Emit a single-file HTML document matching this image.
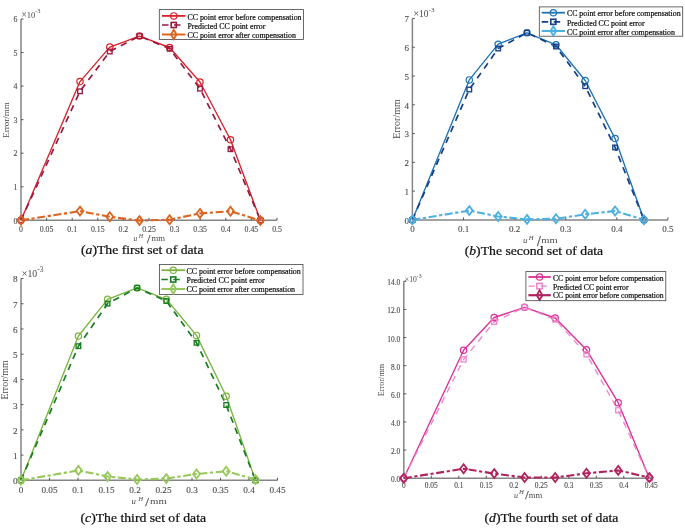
<!DOCTYPE html><html><head><meta charset="utf-8"><style>html,body{margin:0;padding:0;background:#fff;}svg{display:block;will-change:transform;filter:blur(0.4px);}text{font-family:"Liberation Serif", serif;} .lg{stroke:#111;stroke-width:0.22px;} .tk{stroke:#555;stroke-width:0.12px;} .cp{stroke:#111;stroke-width:0.25px;}</style></head><body>
<svg width="685" height="528" viewBox="0 0 685 528">
<rect width="685" height="528" fill="#fff"/>
<path d="M21,19 V220.3 M21,220.3 H277" fill="none" stroke="#858585" stroke-width="1.5"/>
<path d="M21,220.3 h2.5" stroke="#555" stroke-width="1"/>
<text x="17.5" y="223.58" font-size="7.8" fill="#4a4a4a" text-anchor="end" class="tk">0</text>
<path d="M21,186.75 h2.5" stroke="#555" stroke-width="1"/>
<text x="17.5" y="190.03" font-size="7.8" fill="#4a4a4a" text-anchor="end" class="tk">1</text>
<path d="M21,153.2 h2.5" stroke="#555" stroke-width="1"/>
<text x="17.5" y="156.48" font-size="7.8" fill="#4a4a4a" text-anchor="end" class="tk">2</text>
<path d="M21,119.65 h2.5" stroke="#555" stroke-width="1"/>
<text x="17.5" y="122.93" font-size="7.8" fill="#4a4a4a" text-anchor="end" class="tk">3</text>
<path d="M21,86.1 h2.5" stroke="#555" stroke-width="1"/>
<text x="17.5" y="89.38" font-size="7.8" fill="#4a4a4a" text-anchor="end" class="tk">4</text>
<path d="M21,52.55 h2.5" stroke="#555" stroke-width="1"/>
<text x="17.5" y="55.83" font-size="7.8" fill="#4a4a4a" text-anchor="end" class="tk">5</text>
<path d="M21,19 h2.5" stroke="#555" stroke-width="1"/>
<text x="17.5" y="22.28" font-size="7.8" fill="#4a4a4a" text-anchor="end" class="tk">6</text>
<path d="M21,220.3 v-2.5" stroke="#555" stroke-width="1"/>
<text x="21" y="231.8" font-size="7.8" fill="#4a4a4a" text-anchor="middle" class="tk">0</text>
<path d="M46.6,220.3 v-2.5" stroke="#555" stroke-width="1"/>
<text x="46.6" y="231.8" font-size="7.8" fill="#4a4a4a" text-anchor="middle" class="tk">0.05</text>
<path d="M72.2,220.3 v-2.5" stroke="#555" stroke-width="1"/>
<text x="72.2" y="231.8" font-size="7.8" fill="#4a4a4a" text-anchor="middle" class="tk">0.1</text>
<path d="M97.8,220.3 v-2.5" stroke="#555" stroke-width="1"/>
<text x="97.8" y="231.8" font-size="7.8" fill="#4a4a4a" text-anchor="middle" class="tk">0.15</text>
<path d="M123.4,220.3 v-2.5" stroke="#555" stroke-width="1"/>
<text x="123.4" y="231.8" font-size="7.8" fill="#4a4a4a" text-anchor="middle" class="tk">0.2</text>
<path d="M149,220.3 v-2.5" stroke="#555" stroke-width="1"/>
<text x="149" y="231.8" font-size="7.8" fill="#4a4a4a" text-anchor="middle" class="tk">0.25</text>
<path d="M174.6,220.3 v-2.5" stroke="#555" stroke-width="1"/>
<text x="174.6" y="231.8" font-size="7.8" fill="#4a4a4a" text-anchor="middle" class="tk">0.3</text>
<path d="M200.2,220.3 v-2.5" stroke="#555" stroke-width="1"/>
<text x="200.2" y="231.8" font-size="7.8" fill="#4a4a4a" text-anchor="middle" class="tk">0.35</text>
<path d="M225.8,220.3 v-2.5" stroke="#555" stroke-width="1"/>
<text x="225.8" y="231.8" font-size="7.8" fill="#4a4a4a" text-anchor="middle" class="tk">0.4</text>
<path d="M251.4,220.3 v-2.5" stroke="#555" stroke-width="1"/>
<text x="251.4" y="231.8" font-size="7.8" fill="#4a4a4a" text-anchor="middle" class="tk">0.45</text>
<path d="M277,220.3 v-2.5" stroke="#555" stroke-width="1"/>
<text x="277" y="231.8" font-size="7.8" fill="#4a4a4a" text-anchor="middle" class="tk">0.5</text>
<text x="21.4" y="17.6" font-size="8.5" fill="#4a4a4a"><tspan font-size="9.35">&#215;</tspan>10<tspan font-size="6.38" dy="-4.42">-3</tspan></text>
<text x="9" y="120" font-size="9" fill="#4a4a4a" text-anchor="middle" transform="rotate(-90 9 120)">Error/mm</text>
<text x="133.6" y="241.2" font-size="7.4" fill="#4a4a4a" font-style="italic">u</text>
<text x="138.7" y="237.6" font-size="6" fill="#4a4a4a" font-style="italic">H</text>
<text x="147.1" y="242.8" font-size="12" fill="#4a4a4a" stroke="#4a4a4a" stroke-width="0.25">/</text>
<text x="151.4" y="241.2" font-size="7.4" fill="#4a4a4a" textLength="13.6" lengthAdjust="spacingAndGlyphs">mm</text>
<polyline points="21,220.3 80,81.6 109.8,47.1 139.5,36.1 169.6,47.5 200,82 230.5,139.8 260.4,220.3" fill="none" stroke="#d8232a" stroke-width="1.35" stroke-linejoin="round"/>
<polyline points="21,220.3 80,91.3 109.8,51.5 139.5,36.1 169.6,48.8 200,88.7 230.5,149.2 260.4,220.3" fill="none" stroke="#981a42" stroke-width="1.7" stroke-dasharray="6.5,5.5" stroke-linejoin="round"/>
<polyline points="21,220.3 80,211.1 109.8,216.8 139.5,220.6 169.6,219.7 200,213.4 230.5,211.2 260.4,220.6" fill="none" stroke="#dc6420" stroke-width="2.1" stroke-dasharray="8,2.6,3.2,2.6" stroke-linejoin="round"/>
<circle cx="21" cy="220.3" r="3.15" fill="none" stroke="#d8232a" stroke-width="1.2"/>
<circle cx="80" cy="81.6" r="3.15" fill="none" stroke="#d8232a" stroke-width="1.2"/>
<circle cx="109.8" cy="47.1" r="3.15" fill="none" stroke="#d8232a" stroke-width="1.2"/>
<circle cx="139.5" cy="36.1" r="3.15" fill="none" stroke="#d8232a" stroke-width="1.2"/>
<circle cx="169.6" cy="47.5" r="3.15" fill="none" stroke="#d8232a" stroke-width="1.2"/>
<circle cx="200" cy="82" r="3.15" fill="none" stroke="#d8232a" stroke-width="1.2"/>
<circle cx="230.5" cy="139.8" r="3.15" fill="none" stroke="#d8232a" stroke-width="1.2"/>
<circle cx="260.4" cy="220.3" r="3.15" fill="none" stroke="#d8232a" stroke-width="1.2"/>
<rect x="18.7" y="218" width="4.6" height="4.6" fill="none" stroke="#981a42" stroke-width="1.35"/>
<rect x="77.7" y="89" width="4.6" height="4.6" fill="none" stroke="#981a42" stroke-width="1.35"/>
<rect x="107.5" y="49.2" width="4.6" height="4.6" fill="none" stroke="#981a42" stroke-width="1.35"/>
<rect x="137.2" y="33.8" width="4.6" height="4.6" fill="none" stroke="#981a42" stroke-width="1.35"/>
<rect x="167.3" y="46.5" width="4.6" height="4.6" fill="none" stroke="#981a42" stroke-width="1.35"/>
<rect x="197.7" y="86.4" width="4.6" height="4.6" fill="none" stroke="#981a42" stroke-width="1.35"/>
<rect x="228.2" y="146.9" width="4.6" height="4.6" fill="none" stroke="#981a42" stroke-width="1.35"/>
<rect x="258.1" y="218" width="4.6" height="4.6" fill="none" stroke="#981a42" stroke-width="1.35"/>
<polygon points="21,215.82 24.44,220.3 21,224.78 17.56,220.3" fill="none" stroke="#dc6420" stroke-width="1.8"/>
<polygon points="80,206.62 83.44,211.1 80,215.58 76.56,211.1" fill="none" stroke="#dc6420" stroke-width="1.8"/>
<polygon points="109.8,212.32 113.24,216.8 109.8,221.28 106.36,216.8" fill="none" stroke="#dc6420" stroke-width="1.8"/>
<polygon points="139.5,216.12 142.94,220.6 139.5,225.08 136.06,220.6" fill="none" stroke="#dc6420" stroke-width="1.8"/>
<polygon points="169.6,215.22 173.04,219.7 169.6,224.18 166.16,219.7" fill="none" stroke="#dc6420" stroke-width="1.8"/>
<polygon points="200,208.92 203.44,213.4 200,217.88 196.56,213.4" fill="none" stroke="#dc6420" stroke-width="1.8"/>
<polygon points="230.5,206.72 233.94,211.2 230.5,215.68 227.06,211.2" fill="none" stroke="#dc6420" stroke-width="1.8"/>
<polygon points="260.4,216.12 263.84,220.6 260.4,225.08 256.96,220.6" fill="none" stroke="#dc6420" stroke-width="1.8"/>
<rect x="159.3" y="9.6" width="144.2" height="29.9" fill="#fff" stroke="#444" stroke-width="0.8"/>
<polyline points="162,15.9 185.5,15.9" fill="none" stroke="#d8232a" stroke-width="1.8" stroke-linejoin="round"/>
<circle cx="173.75" cy="15.9" r="3.15" fill="none" stroke="#d8232a" stroke-width="1.2"/>
<text x="187.4" y="19.63" font-size="7.92" fill="#111" text-anchor="start" class="lg">CC point error before compensation</text>
<polyline points="162,25 185.5,25" fill="none" stroke="#981a42" stroke-width="1.7" stroke-dasharray="6.5,5.5" stroke-linejoin="round"/>
<rect x="171.2" y="22.45" width="5.1" height="5.1" fill="none" stroke="#981a42" stroke-width="1.6"/>
<text x="187.4" y="28.93" font-size="7.92" fill="#111" text-anchor="start" class="lg">Predicted CC point error</text>
<polyline points="162,34.5 185.5,34.5" fill="none" stroke="#dc6420" stroke-width="2" stroke-dasharray="none" stroke-linejoin="round"/>
<polygon points="173.75,29.7 176.55,34.5 173.75,39.3 170.95,34.5" fill="none" stroke="#dc6420" stroke-width="1.8"/>
<text x="187.4" y="37.83" font-size="7.92" fill="#111" text-anchor="start" class="lg">CC point error after compensation</text>
<text transform="translate(81 254.3) scale(1 0.95)" x="0" y="0" font-size="13.7" fill="#111" class="cp">(<tspan font-style="italic">a</tspan>)The first set of data</text>
<path d="M412.4,18.4 V219.9 M412.4,219.9 H668" fill="none" stroke="#858585" stroke-width="1.5"/>
<path d="M412.4,219.9 h2.5" stroke="#555" stroke-width="1"/>
<text x="408.9" y="223.68" font-size="9" fill="#4a4a4a" text-anchor="end" class="tk">0</text>
<path d="M412.4,191.12 h2.5" stroke="#555" stroke-width="1"/>
<text x="408.9" y="194.9" font-size="9" fill="#4a4a4a" text-anchor="end" class="tk">1</text>
<path d="M412.4,162.34 h2.5" stroke="#555" stroke-width="1"/>
<text x="408.9" y="166.12" font-size="9" fill="#4a4a4a" text-anchor="end" class="tk">2</text>
<path d="M412.4,133.56 h2.5" stroke="#555" stroke-width="1"/>
<text x="408.9" y="137.34" font-size="9" fill="#4a4a4a" text-anchor="end" class="tk">3</text>
<path d="M412.4,104.78 h2.5" stroke="#555" stroke-width="1"/>
<text x="408.9" y="108.56" font-size="9" fill="#4a4a4a" text-anchor="end" class="tk">4</text>
<path d="M412.4,76 h2.5" stroke="#555" stroke-width="1"/>
<text x="408.9" y="79.78" font-size="9" fill="#4a4a4a" text-anchor="end" class="tk">5</text>
<path d="M412.4,47.22 h2.5" stroke="#555" stroke-width="1"/>
<text x="408.9" y="51" font-size="9" fill="#4a4a4a" text-anchor="end" class="tk">6</text>
<path d="M412.4,18.44 h2.5" stroke="#555" stroke-width="1"/>
<text x="408.9" y="22.22" font-size="9" fill="#4a4a4a" text-anchor="end" class="tk">7</text>
<path d="M412.4,219.9 v-2.5" stroke="#555" stroke-width="1"/>
<text x="412.4" y="232.2" font-size="9" fill="#4a4a4a" text-anchor="middle" class="tk">0</text>
<path d="M463.5,219.9 v-2.5" stroke="#555" stroke-width="1"/>
<text x="463.5" y="232.2" font-size="9" fill="#4a4a4a" text-anchor="middle" class="tk">0.1</text>
<path d="M514.6,219.9 v-2.5" stroke="#555" stroke-width="1"/>
<text x="514.6" y="232.2" font-size="9" fill="#4a4a4a" text-anchor="middle" class="tk">0.2</text>
<path d="M565.7,219.9 v-2.5" stroke="#555" stroke-width="1"/>
<text x="565.7" y="232.2" font-size="9" fill="#4a4a4a" text-anchor="middle" class="tk">0.3</text>
<path d="M616.8,219.9 v-2.5" stroke="#555" stroke-width="1"/>
<text x="616.8" y="232.2" font-size="9" fill="#4a4a4a" text-anchor="middle" class="tk">0.4</text>
<path d="M667.9,219.9 v-2.5" stroke="#555" stroke-width="1"/>
<text x="667.9" y="232.2" font-size="9" fill="#4a4a4a" text-anchor="middle" class="tk">0.5</text>
<text x="413.2" y="17" font-size="9.5" fill="#4a4a4a"><tspan font-size="10.45">&#215;</tspan>10<tspan font-size="7.12" dy="-4.94">-3</tspan></text>
<text x="399.5" y="119" font-size="10" fill="#4a4a4a" text-anchor="middle" transform="rotate(-90 399.5 119)">Error/mm</text>
<text x="522.9" y="243.3" font-size="9" fill="#4a4a4a" font-style="italic">u</text>
<text x="528.8" y="239.7" font-size="6.6" fill="#4a4a4a" font-style="italic">H</text>
<text x="536.9" y="245.5" font-size="13.6" fill="#4a4a4a" stroke="#4a4a4a" stroke-width="0.25">/</text>
<text x="541.2" y="243.2" font-size="9" fill="#4a4a4a" textLength="16.4" lengthAdjust="spacingAndGlyphs">mm</text>
<polyline points="412.4,219.9 469.3,79.9 498.2,44.2 527,32.8 556,44.8 585.2,80.5 615.1,138.6 644,219.9" fill="none" stroke="#1f74b4" stroke-width="1.35" stroke-linejoin="round"/>
<polyline points="412.4,219.9 469.3,89.5 498.2,48.5 527,32.8 556,46.5 585.2,86.2 615.1,147.5 644,219.9" fill="none" stroke="#173f85" stroke-width="1.7" stroke-dasharray="6.5,5.5" stroke-linejoin="round"/>
<polyline points="412.4,219.9 469.3,210.6 498.2,216.5 527,219.4 556,218.8 585.2,214.3 615.1,211 644,219.8" fill="none" stroke="#4db0e0" stroke-width="2.1" stroke-dasharray="8,2.6,3.2,2.6" stroke-linejoin="round"/>
<circle cx="412.4" cy="219.9" r="3.15" fill="none" stroke="#1f74b4" stroke-width="1.2"/>
<circle cx="469.3" cy="79.9" r="3.15" fill="none" stroke="#1f74b4" stroke-width="1.2"/>
<circle cx="498.2" cy="44.2" r="3.15" fill="none" stroke="#1f74b4" stroke-width="1.2"/>
<circle cx="527" cy="32.8" r="3.15" fill="none" stroke="#1f74b4" stroke-width="1.2"/>
<circle cx="556" cy="44.8" r="3.15" fill="none" stroke="#1f74b4" stroke-width="1.2"/>
<circle cx="585.2" cy="80.5" r="3.15" fill="none" stroke="#1f74b4" stroke-width="1.2"/>
<circle cx="615.1" cy="138.6" r="3.15" fill="none" stroke="#1f74b4" stroke-width="1.2"/>
<circle cx="644" cy="219.9" r="3.15" fill="none" stroke="#1f74b4" stroke-width="1.2"/>
<rect x="410.1" y="217.6" width="4.6" height="4.6" fill="none" stroke="#173f85" stroke-width="1.35"/>
<rect x="467" y="87.2" width="4.6" height="4.6" fill="none" stroke="#173f85" stroke-width="1.35"/>
<rect x="495.9" y="46.2" width="4.6" height="4.6" fill="none" stroke="#173f85" stroke-width="1.35"/>
<rect x="524.7" y="30.5" width="4.6" height="4.6" fill="none" stroke="#173f85" stroke-width="1.35"/>
<rect x="553.7" y="44.2" width="4.6" height="4.6" fill="none" stroke="#173f85" stroke-width="1.35"/>
<rect x="582.9" y="83.9" width="4.6" height="4.6" fill="none" stroke="#173f85" stroke-width="1.35"/>
<rect x="612.8" y="145.2" width="4.6" height="4.6" fill="none" stroke="#173f85" stroke-width="1.35"/>
<rect x="641.7" y="217.6" width="4.6" height="4.6" fill="none" stroke="#173f85" stroke-width="1.35"/>
<polygon points="412.4,215.42 415.84,219.9 412.4,224.38 408.96,219.9" fill="none" stroke="#4db0e0" stroke-width="1.8"/>
<polygon points="469.3,206.12 472.74,210.6 469.3,215.08 465.86,210.6" fill="none" stroke="#4db0e0" stroke-width="1.8"/>
<polygon points="498.2,212.02 501.64,216.5 498.2,220.98 494.76,216.5" fill="none" stroke="#4db0e0" stroke-width="1.8"/>
<polygon points="527,214.92 530.44,219.4 527,223.88 523.56,219.4" fill="none" stroke="#4db0e0" stroke-width="1.8"/>
<polygon points="556,214.32 559.44,218.8 556,223.28 552.56,218.8" fill="none" stroke="#4db0e0" stroke-width="1.8"/>
<polygon points="585.2,209.82 588.64,214.3 585.2,218.78 581.76,214.3" fill="none" stroke="#4db0e0" stroke-width="1.8"/>
<polygon points="615.1,206.52 618.54,211 615.1,215.48 611.66,211" fill="none" stroke="#4db0e0" stroke-width="1.8"/>
<polygon points="644,215.32 647.44,219.8 644,224.28 640.56,219.8" fill="none" stroke="#4db0e0" stroke-width="1.8"/>
<rect x="539.3" y="6.9" width="143.4" height="29.3" fill="#fff" stroke="#444" stroke-width="0.8"/>
<polyline points="541.7,12.7 565,12.7" fill="none" stroke="#1f74b4" stroke-width="1.8" stroke-linejoin="round"/>
<circle cx="553.35" cy="12.7" r="3.15" fill="none" stroke="#1f74b4" stroke-width="1.2"/>
<text x="566.9" y="16.41" font-size="7.88" fill="#111" text-anchor="start" class="lg">CC point error before compensation</text>
<polyline points="541.7,21.8 565,21.8" fill="none" stroke="#173f85" stroke-width="1.7" stroke-dasharray="6.5,5.5" stroke-linejoin="round"/>
<rect x="550.8" y="19.25" width="5.1" height="5.1" fill="none" stroke="#173f85" stroke-width="1.6"/>
<text x="566.9" y="25.61" font-size="7.88" fill="#111" text-anchor="start" class="lg">Predicted CC point error</text>
<polyline points="541.7,31 565,31" fill="none" stroke="#4db0e0" stroke-width="2" stroke-dasharray="none" stroke-linejoin="round"/>
<polygon points="553.35,26.2 556.15,31 553.35,35.8 550.55,31" fill="none" stroke="#4db0e0" stroke-width="1.8"/>
<text x="566.9" y="35.01" font-size="7.88" fill="#111" text-anchor="start" class="lg">CC point error after compensation</text>
<text transform="translate(464.7 254.7) scale(1 0.95)" x="0" y="0" font-size="13.7" fill="#111" class="cp">(<tspan font-style="italic">b</tspan>)The second set of data</text>
<path d="M21,278.5 V480.3 M21,480.3 H277.5" fill="none" stroke="#858585" stroke-width="1.5"/>
<path d="M21,480.3 h2.5" stroke="#555" stroke-width="1"/>
<text x="17.5" y="484.16" font-size="9.2" fill="#4a4a4a" text-anchor="end" class="tk">0</text>
<path d="M21,455.08 h2.5" stroke="#555" stroke-width="1"/>
<text x="17.5" y="458.94" font-size="9.2" fill="#4a4a4a" text-anchor="end" class="tk">1</text>
<path d="M21,429.86 h2.5" stroke="#555" stroke-width="1"/>
<text x="17.5" y="433.72" font-size="9.2" fill="#4a4a4a" text-anchor="end" class="tk">2</text>
<path d="M21,404.64 h2.5" stroke="#555" stroke-width="1"/>
<text x="17.5" y="408.5" font-size="9.2" fill="#4a4a4a" text-anchor="end" class="tk">3</text>
<path d="M21,379.42 h2.5" stroke="#555" stroke-width="1"/>
<text x="17.5" y="383.28" font-size="9.2" fill="#4a4a4a" text-anchor="end" class="tk">4</text>
<path d="M21,354.2 h2.5" stroke="#555" stroke-width="1"/>
<text x="17.5" y="358.06" font-size="9.2" fill="#4a4a4a" text-anchor="end" class="tk">5</text>
<path d="M21,328.98 h2.5" stroke="#555" stroke-width="1"/>
<text x="17.5" y="332.84" font-size="9.2" fill="#4a4a4a" text-anchor="end" class="tk">6</text>
<path d="M21,303.76 h2.5" stroke="#555" stroke-width="1"/>
<text x="17.5" y="307.62" font-size="9.2" fill="#4a4a4a" text-anchor="end" class="tk">7</text>
<path d="M21,278.54 h2.5" stroke="#555" stroke-width="1"/>
<text x="17.5" y="282.4" font-size="9.2" fill="#4a4a4a" text-anchor="end" class="tk">8</text>
<path d="M21,480.3 v-2.5" stroke="#555" stroke-width="1"/>
<text x="21" y="493" font-size="9.2" fill="#4a4a4a" text-anchor="middle" class="tk">0</text>
<path d="M49.5,480.3 v-2.5" stroke="#555" stroke-width="1"/>
<text x="49.5" y="493" font-size="9.2" fill="#4a4a4a" text-anchor="middle" class="tk">0.05</text>
<path d="M78,480.3 v-2.5" stroke="#555" stroke-width="1"/>
<text x="78" y="493" font-size="9.2" fill="#4a4a4a" text-anchor="middle" class="tk">0.1</text>
<path d="M106.5,480.3 v-2.5" stroke="#555" stroke-width="1"/>
<text x="106.5" y="493" font-size="9.2" fill="#4a4a4a" text-anchor="middle" class="tk">0.15</text>
<path d="M135,480.3 v-2.5" stroke="#555" stroke-width="1"/>
<text x="135" y="493" font-size="9.2" fill="#4a4a4a" text-anchor="middle" class="tk">0.2</text>
<path d="M163.5,480.3 v-2.5" stroke="#555" stroke-width="1"/>
<text x="163.5" y="493" font-size="9.2" fill="#4a4a4a" text-anchor="middle" class="tk">0.25</text>
<path d="M192,480.3 v-2.5" stroke="#555" stroke-width="1"/>
<text x="192" y="493" font-size="9.2" fill="#4a4a4a" text-anchor="middle" class="tk">0.3</text>
<path d="M220.5,480.3 v-2.5" stroke="#555" stroke-width="1"/>
<text x="220.5" y="493" font-size="9.2" fill="#4a4a4a" text-anchor="middle" class="tk">0.35</text>
<path d="M249,480.3 v-2.5" stroke="#555" stroke-width="1"/>
<text x="249" y="493" font-size="9.2" fill="#4a4a4a" text-anchor="middle" class="tk">0.4</text>
<path d="M277.5,480.3 v-2.5" stroke="#555" stroke-width="1"/>
<text x="277.5" y="493" font-size="9.2" fill="#4a4a4a" text-anchor="middle" class="tk">0.45</text>
<text x="21.4" y="277.1" font-size="9.8" fill="#4a4a4a"><tspan font-size="10.78">&#215;</tspan>10<tspan font-size="7.35" dy="-5.1">-3</tspan></text>
<text x="8.3" y="379.9" font-size="10" fill="#4a4a4a" text-anchor="middle" transform="rotate(-90 8.3 379.9)">Error/mm</text>
<text x="131.6" y="504" font-size="8.8" fill="#4a4a4a" font-style="italic">u</text>
<text x="138.6" y="500.9" font-size="6.3" fill="#4a4a4a" font-style="italic">H</text>
<text x="145.3" y="506.1" font-size="13.4" fill="#4a4a4a" stroke="#4a4a4a" stroke-width="0.25">/</text>
<text x="150" y="504" font-size="9" fill="#4a4a4a" textLength="16.8" lengthAdjust="spacingAndGlyphs">mm</text>
<polyline points="21,480.3 78.4,336 107.6,299.3 137.1,287.9 166.3,299.3 196.5,335.4 226.2,396.2 255.5,480.3" fill="none" stroke="#7db341" stroke-width="1.35" stroke-linejoin="round"/>
<polyline points="21,480.3 78.4,346.2 107.6,303.6 137.1,287.9 166.3,301 196.5,342.8 226.2,405 255.5,480.3" fill="none" stroke="#167f22" stroke-width="1.7" stroke-dasharray="6.5,5.5" stroke-linejoin="round"/>
<polyline points="21,480.3 78.4,470.4 107.6,476.5 137.1,479.5 166.3,478.6 196.5,474 226.2,471.2 255.5,479.5" fill="none" stroke="#96c85a" stroke-width="2.1" stroke-dasharray="8,2.6,3.2,2.6" stroke-linejoin="round"/>
<circle cx="21" cy="480.3" r="3.15" fill="none" stroke="#7db341" stroke-width="1.2"/>
<circle cx="78.4" cy="336" r="3.15" fill="none" stroke="#7db341" stroke-width="1.2"/>
<circle cx="107.6" cy="299.3" r="3.15" fill="none" stroke="#7db341" stroke-width="1.2"/>
<circle cx="137.1" cy="287.9" r="3.15" fill="none" stroke="#7db341" stroke-width="1.2"/>
<circle cx="166.3" cy="299.3" r="3.15" fill="none" stroke="#7db341" stroke-width="1.2"/>
<circle cx="196.5" cy="335.4" r="3.15" fill="none" stroke="#7db341" stroke-width="1.2"/>
<circle cx="226.2" cy="396.2" r="3.15" fill="none" stroke="#7db341" stroke-width="1.2"/>
<circle cx="255.5" cy="480.3" r="3.15" fill="none" stroke="#7db341" stroke-width="1.2"/>
<rect x="18.7" y="478" width="4.6" height="4.6" fill="none" stroke="#167f22" stroke-width="1.35"/>
<rect x="76.1" y="343.9" width="4.6" height="4.6" fill="none" stroke="#167f22" stroke-width="1.35"/>
<rect x="105.3" y="301.3" width="4.6" height="4.6" fill="none" stroke="#167f22" stroke-width="1.35"/>
<rect x="134.8" y="285.6" width="4.6" height="4.6" fill="none" stroke="#167f22" stroke-width="1.35"/>
<rect x="164" y="298.7" width="4.6" height="4.6" fill="none" stroke="#167f22" stroke-width="1.35"/>
<rect x="194.2" y="340.5" width="4.6" height="4.6" fill="none" stroke="#167f22" stroke-width="1.35"/>
<rect x="223.9" y="402.7" width="4.6" height="4.6" fill="none" stroke="#167f22" stroke-width="1.35"/>
<rect x="253.2" y="478" width="4.6" height="4.6" fill="none" stroke="#167f22" stroke-width="1.35"/>
<polygon points="21,475.82 24.44,480.3 21,484.78 17.56,480.3" fill="none" stroke="#96c85a" stroke-width="1.8"/>
<polygon points="78.4,465.92 81.84,470.4 78.4,474.88 74.96,470.4" fill="none" stroke="#96c85a" stroke-width="1.8"/>
<polygon points="107.6,472.02 111.04,476.5 107.6,480.98 104.16,476.5" fill="none" stroke="#96c85a" stroke-width="1.8"/>
<polygon points="137.1,475.02 140.54,479.5 137.1,483.98 133.66,479.5" fill="none" stroke="#96c85a" stroke-width="1.8"/>
<polygon points="166.3,474.12 169.74,478.6 166.3,483.08 162.86,478.6" fill="none" stroke="#96c85a" stroke-width="1.8"/>
<polygon points="196.5,469.52 199.94,474 196.5,478.48 193.06,474" fill="none" stroke="#96c85a" stroke-width="1.8"/>
<polygon points="226.2,466.72 229.64,471.2 226.2,475.68 222.76,471.2" fill="none" stroke="#96c85a" stroke-width="1.8"/>
<polygon points="255.5,475.02 258.94,479.5 255.5,483.98 252.06,479.5" fill="none" stroke="#96c85a" stroke-width="1.8"/>
<rect x="159.4" y="264.4" width="143.6" height="30.1" fill="#fff" stroke="#444" stroke-width="0.8"/>
<polyline points="161.3,270.2 185.2,270.2" fill="none" stroke="#7db341" stroke-width="1.8" stroke-linejoin="round"/>
<circle cx="173.25" cy="270.2" r="3.15" fill="none" stroke="#7db341" stroke-width="1.2"/>
<text x="186.6" y="273.53" font-size="7.92" fill="#111" text-anchor="start" class="lg">CC point error before compensation</text>
<polyline points="161.3,279.5 185.2,279.5" fill="none" stroke="#167f22" stroke-width="1.7" stroke-dasharray="6.5,5.5" stroke-linejoin="round"/>
<rect x="170.7" y="276.95" width="5.1" height="5.1" fill="none" stroke="#167f22" stroke-width="1.6"/>
<text x="186.6" y="282.83" font-size="7.92" fill="#111" text-anchor="start" class="lg">Predicted CC point error</text>
<polyline points="161.3,289 185.2,289" fill="none" stroke="#96c85a" stroke-width="2" stroke-dasharray="none" stroke-linejoin="round"/>
<polygon points="173.25,284.2 176.05,289 173.25,293.8 170.45,289" fill="none" stroke="#96c85a" stroke-width="1.8"/>
<text x="186.6" y="292.33" font-size="7.92" fill="#111" text-anchor="start" class="lg">CC point error after compensation</text>
<text transform="translate(80.5 521.7) scale(1 0.95)" x="0" y="0" font-size="13.7" fill="#111" class="cp">(<tspan font-style="italic">c</tspan>)The third set of data</text>
<path d="M403.8,281.3 V478.2 M403.8,478.2 H651" fill="none" stroke="#858585" stroke-width="1.5"/>
<path d="M403.8,478.2 h2.5" stroke="#555" stroke-width="1"/>
<text x="400.3" y="482.27" font-size="7.4" fill="#4a4a4a" text-anchor="end" class="tk">0.0</text>
<path d="M403.8,450.07 h2.5" stroke="#555" stroke-width="1"/>
<text x="400.3" y="454.14" font-size="7.4" fill="#4a4a4a" text-anchor="end" class="tk">2.0</text>
<path d="M403.8,421.94 h2.5" stroke="#555" stroke-width="1"/>
<text x="400.3" y="426.01" font-size="7.4" fill="#4a4a4a" text-anchor="end" class="tk">4.0</text>
<path d="M403.8,393.81 h2.5" stroke="#555" stroke-width="1"/>
<text x="400.3" y="397.88" font-size="7.4" fill="#4a4a4a" text-anchor="end" class="tk">6.0</text>
<path d="M403.8,365.68 h2.5" stroke="#555" stroke-width="1"/>
<text x="400.3" y="369.75" font-size="7.4" fill="#4a4a4a" text-anchor="end" class="tk">8.0</text>
<path d="M403.8,337.55 h2.5" stroke="#555" stroke-width="1"/>
<text x="400.3" y="341.62" font-size="7.4" fill="#4a4a4a" text-anchor="end" class="tk">10.0</text>
<path d="M403.8,309.42 h2.5" stroke="#555" stroke-width="1"/>
<text x="400.3" y="313.49" font-size="7.4" fill="#4a4a4a" text-anchor="end" class="tk">12.0</text>
<path d="M403.8,281.29 h2.5" stroke="#555" stroke-width="1"/>
<text x="400.3" y="285.36" font-size="7.4" fill="#4a4a4a" text-anchor="end" class="tk">14.0</text>
<path d="M403.8,478.2 v-2.5" stroke="#555" stroke-width="1"/>
<text x="403.8" y="488" font-size="7.4" fill="#4a4a4a" text-anchor="middle" class="tk">0</text>
<path d="M431.3,478.2 v-2.5" stroke="#555" stroke-width="1"/>
<text x="431.3" y="488" font-size="7.4" fill="#4a4a4a" text-anchor="middle" class="tk">0.05</text>
<path d="M458.8,478.2 v-2.5" stroke="#555" stroke-width="1"/>
<text x="458.8" y="488" font-size="7.4" fill="#4a4a4a" text-anchor="middle" class="tk">0.1</text>
<path d="M486.3,478.2 v-2.5" stroke="#555" stroke-width="1"/>
<text x="486.3" y="488" font-size="7.4" fill="#4a4a4a" text-anchor="middle" class="tk">0.15</text>
<path d="M513.8,478.2 v-2.5" stroke="#555" stroke-width="1"/>
<text x="513.8" y="488" font-size="7.4" fill="#4a4a4a" text-anchor="middle" class="tk">0.2</text>
<path d="M541.3,478.2 v-2.5" stroke="#555" stroke-width="1"/>
<text x="541.3" y="488" font-size="7.4" fill="#4a4a4a" text-anchor="middle" class="tk">0.25</text>
<path d="M568.8,478.2 v-2.5" stroke="#555" stroke-width="1"/>
<text x="568.8" y="488" font-size="7.4" fill="#4a4a4a" text-anchor="middle" class="tk">0.3</text>
<path d="M596.3,478.2 v-2.5" stroke="#555" stroke-width="1"/>
<text x="596.3" y="488" font-size="7.4" fill="#4a4a4a" text-anchor="middle" class="tk">0.35</text>
<path d="M623.8,478.2 v-2.5" stroke="#555" stroke-width="1"/>
<text x="623.8" y="488" font-size="7.4" fill="#4a4a4a" text-anchor="middle" class="tk">0.4</text>
<path d="M651.3,478.2 v-2.5" stroke="#555" stroke-width="1"/>
<text x="651.3" y="488" font-size="7.4" fill="#4a4a4a" text-anchor="middle" class="tk">0.45</text>
<text x="404.5" y="281.5" font-size="7.6" fill="#4a4a4a"><tspan font-size="8.36">&#215;</tspan>10<tspan font-size="5.7" dy="-3.95">-3</tspan></text>
<text x="383.5" y="380" font-size="8.2" fill="#4a4a4a" text-anchor="middle" transform="rotate(-90 383.5 380)">Error/mm</text>
<text x="514" y="497.8" font-size="8" fill="#4a4a4a" font-style="italic">u</text>
<text x="519.1" y="494.4" font-size="6.8" fill="#4a4a4a" font-style="italic">H</text>
<text x="525.2" y="499.4" font-size="12" fill="#4a4a4a" stroke="#4a4a4a" stroke-width="0.25">/</text>
<text x="528.7" y="497.8" font-size="8" fill="#4a4a4a" textLength="13.6" lengthAdjust="spacingAndGlyphs">mm</text>
<polyline points="403.8,478.2 463.6,350.2 494.2,317.5 524.6,307.3 555.2,318 586.5,349.8 618.2,402.7 649.4,478.2" fill="none" stroke="#dc2f96" stroke-width="1.35" stroke-linejoin="round"/>
<polyline points="403.8,478.2 463.6,359.5 494.2,321.8 524.6,307.3 555.2,319.5 586.5,354.3 618.2,410.3 649.4,478.2" fill="none" stroke="#ee86cc" stroke-width="1.35" stroke-dasharray="6.5,5.5" stroke-linejoin="round"/>
<polyline points="403.8,478.2 463.6,468.8 494.2,473.6 524.6,477.5 555.2,477.5 586.5,473.3 618.2,470.4 649.4,477.5" fill="none" stroke="#b0245e" stroke-width="2.1" stroke-dasharray="8,2.6,3.2,2.6" stroke-linejoin="round"/>
<circle cx="403.8" cy="478.2" r="3.15" fill="none" stroke="#dc2f96" stroke-width="1.2"/>
<circle cx="463.6" cy="350.2" r="3.15" fill="none" stroke="#dc2f96" stroke-width="1.2"/>
<circle cx="494.2" cy="317.5" r="3.15" fill="none" stroke="#dc2f96" stroke-width="1.2"/>
<circle cx="524.6" cy="307.3" r="3.15" fill="none" stroke="#dc2f96" stroke-width="1.2"/>
<circle cx="555.2" cy="318" r="3.15" fill="none" stroke="#dc2f96" stroke-width="1.2"/>
<circle cx="586.5" cy="349.8" r="3.15" fill="none" stroke="#dc2f96" stroke-width="1.2"/>
<circle cx="618.2" cy="402.7" r="3.15" fill="none" stroke="#dc2f96" stroke-width="1.2"/>
<circle cx="649.4" cy="478.2" r="3.15" fill="none" stroke="#dc2f96" stroke-width="1.2"/>
<rect x="401.3" y="475.7" width="5" height="5" fill="none" stroke="#ee86cc" stroke-width="1.3"/>
<rect x="461.1" y="357" width="5" height="5" fill="none" stroke="#ee86cc" stroke-width="1.3"/>
<rect x="491.7" y="319.3" width="5" height="5" fill="none" stroke="#ee86cc" stroke-width="1.3"/>
<rect x="522.1" y="304.8" width="5" height="5" fill="none" stroke="#ee86cc" stroke-width="1.3"/>
<rect x="552.7" y="317" width="5" height="5" fill="none" stroke="#ee86cc" stroke-width="1.3"/>
<rect x="584" y="351.8" width="5" height="5" fill="none" stroke="#ee86cc" stroke-width="1.3"/>
<rect x="615.7" y="407.8" width="5" height="5" fill="none" stroke="#ee86cc" stroke-width="1.3"/>
<rect x="646.9" y="475.7" width="5" height="5" fill="none" stroke="#ee86cc" stroke-width="1.3"/>
<polygon points="403.8,473.72 407.24,478.2 403.8,482.68 400.36,478.2" fill="none" stroke="#b0245e" stroke-width="1.8"/>
<polygon points="463.6,464.32 467.04,468.8 463.6,473.28 460.16,468.8" fill="none" stroke="#b0245e" stroke-width="1.8"/>
<polygon points="494.2,469.12 497.64,473.6 494.2,478.08 490.76,473.6" fill="none" stroke="#b0245e" stroke-width="1.8"/>
<polygon points="524.6,473.02 528.04,477.5 524.6,481.98 521.16,477.5" fill="none" stroke="#b0245e" stroke-width="1.8"/>
<polygon points="555.2,473.02 558.64,477.5 555.2,481.98 551.76,477.5" fill="none" stroke="#b0245e" stroke-width="1.8"/>
<polygon points="586.5,468.82 589.94,473.3 586.5,477.78 583.06,473.3" fill="none" stroke="#b0245e" stroke-width="1.8"/>
<polygon points="618.2,465.92 621.64,470.4 618.2,474.88 614.76,470.4" fill="none" stroke="#b0245e" stroke-width="1.8"/>
<polygon points="649.4,473.02 652.84,477.5 649.4,481.98 645.96,477.5" fill="none" stroke="#b0245e" stroke-width="1.8"/>
<rect x="525.9" y="271.6" width="139.9" height="29.1" fill="#fff" stroke="#444" stroke-width="0.8"/>
<polyline points="528.4,277 550.8,277" fill="none" stroke="#dc2f96" stroke-width="1.8" stroke-linejoin="round"/>
<circle cx="539.6" cy="277" r="3.15" fill="none" stroke="#dc2f96" stroke-width="1.2"/>
<text x="553" y="280.52" font-size="7.66" fill="#111" text-anchor="start" class="lg">CC point error before compensation</text>
<polyline points="528.4,286.1 550.8,286.1" fill="none" stroke="#ee86cc" stroke-width="1.35" stroke-dasharray="6.5,5.5" stroke-linejoin="round"/>
<rect x="536.85" y="283.35" width="5.5" height="5.5" fill="none" stroke="#ee86cc" stroke-width="1.55"/>
<text x="553" y="289.52" font-size="7.66" fill="#111" text-anchor="start" class="lg">Predicted CC point error</text>
<polyline points="528.4,295.2 550.8,295.2" fill="none" stroke="#b0245e" stroke-width="2.2" stroke-dasharray="none" stroke-linejoin="round"/>
<polygon points="539.6,290.4 542.4,295.2 539.6,300 536.8,295.2" fill="none" stroke="#b0245e" stroke-width="1.8"/>
<text x="553" y="298.42" font-size="7.66" fill="#111" text-anchor="start" class="lg">CC point error before compensation</text>
<text transform="translate(484.5 522.3) scale(1 0.95)" x="0" y="0" font-size="13.7" fill="#111" class="cp">(<tspan font-style="italic">d</tspan>)The fourth set of data</text>
</svg></body></html>
